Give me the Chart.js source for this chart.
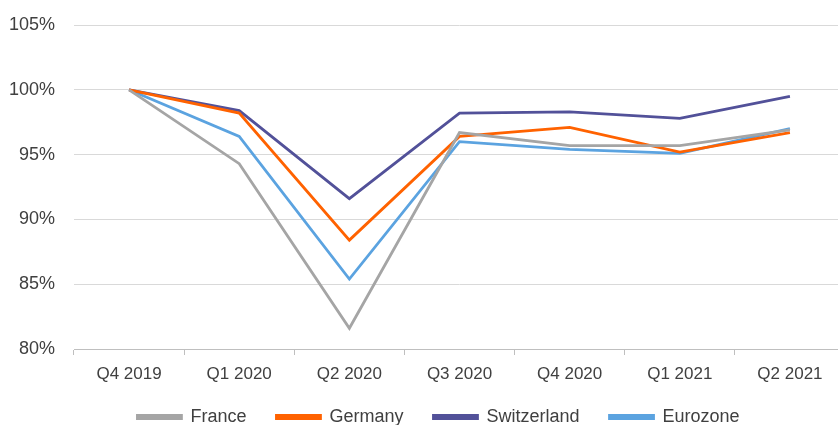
<!DOCTYPE html>
<html>
<head>
<meta charset="utf-8">
<script src="https://cdn.jsdelivr.net/npm/chart.js@4"></script>
<style>
  html, body { margin: 0; padding: 0; background: #fff; overflow: hidden; }
  #wrap { width: 850px; height: 425px; }
</style>
</head>
<body>
<div id="wrap"><canvas id="chart"></canvas></div>
<script>
let quarters = ["Q4 2019", "Q1 2020", "Q2 2020", "Q3 2020", "Q4 2020", "Q1 2021", "Q2 2021"];

let france      = [100, 94.3, 81.6, 96.7, 95.7, 95.7, 96.9];
let germany     = [100, 98.2, 88.4, 96.4, 97.1, 95.2, 96.7];
let switzerland = [100, 98.4, 91.6, 98.2, 98.3, 97.8, 99.5];
let eurozone    = [100, 96.4, 85.4, 96.0, 95.4, 95.1, 97.0];

let textColor = "#404040";
let gridColor = "#d9d9d9";

function series(label, values, color) {
    return {
        label: label,
        data: values,
        borderColor: color,
        backgroundColor: color,
        borderWidth: 2.8,
        pointRadius: 0,
        tension: 0
    };
}

// nudge the legend like the original (a bit right, a bit up)
let legendShift = {
    id: "legendShift",
    afterLayout: function (chart) {
        chart.legend.left += 16;
        chart.legend.right += 16;
        chart.legend.top -= 11;
        chart.legend.bottom -= 11;
    }
};

var ctx = document.getElementById("chart");
var chart = new Chart(ctx, {
    type: "line",
    data: {
        labels: quarters,
        datasets: [
            series("France", france, "#a5a5a5"),
            series("Germany", germany, "#ff6200"),
            series("Switzerland", switzerland, "#525199"),
            series("Eurozone", eurozone, "#5ba3e0")
        ]
    },
    options: {
        responsive: true,
        maintainAspectRatio: false,
        animation: false,
        layout: { padding: { top: 25, right: 5, left: 0, bottom: -22 } },
        plugins: {
            tooltip: { enabled: false },
            legend: {
                position: "bottom",
                labels: {
                    color: textColor,
                    font: { family: "Liberation Sans", size: 18 },
                    boxWidth: 44,
                    boxHeight: 3,
                    padding: 30
                }
            }
        },
        scales: {
            x: {
                offset: true,
                afterFit: function (scale) { scale.height = 40; },
                grid: { offset: true, drawOnChartArea: false, tickLength: 6, color: "#bfbfbf" },
                border: { color: "#bfbfbf" },
                ticks: {
                    color: textColor,
                    font: { family: "Liberation Sans", size: 17 },
                    padding: 9,
                    maxRotation: 0
                }
            },
            y: {
                min: 80,
                max: 105,
                afterFit: function (scale) { scale.width = 74; },
                // invisible tick marks give the gap between labels and plot
                grid: { color: gridColor, tickLength: 19, tickColor: "rgba(0,0,0,0)" },
                border: { display: false },
                ticks: {
                    stepSize: 5,
                    color: textColor,
                    font: { family: "Liberation Sans", size: 18 },
                    padding: 0,
                    callback: function (v) { return v + "%"; }
                }
            }
        }
    },
    plugins: [legendShift]
});
</script>
</body>
</html>
